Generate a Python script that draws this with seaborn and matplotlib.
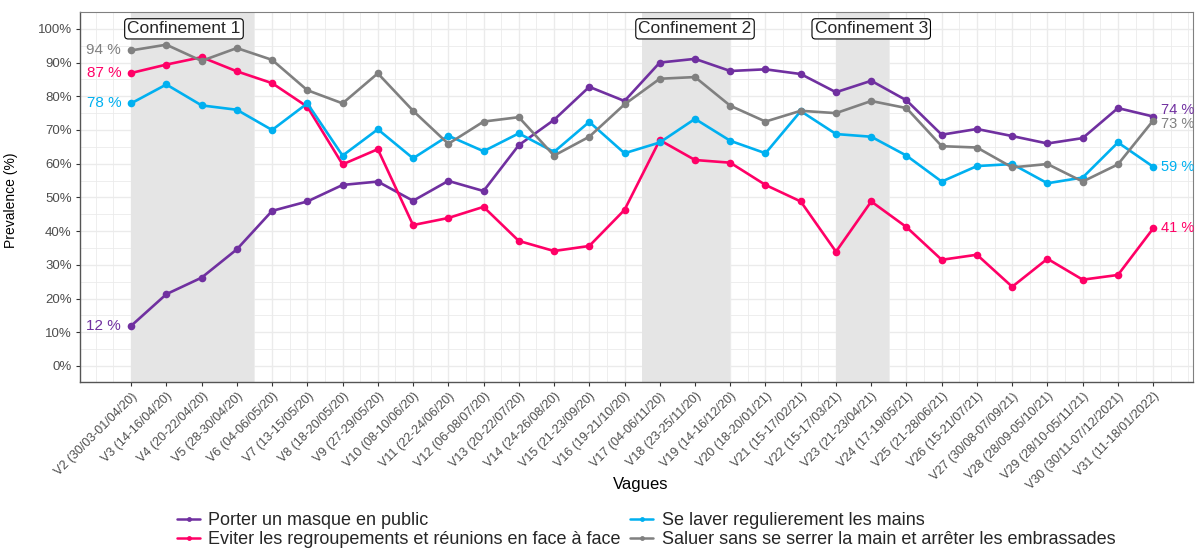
import matplotlib
matplotlib.use("Agg")
import matplotlib.pyplot as plt
from matplotlib.ticker import MultipleLocator, FuncFormatter
from matplotlib.lines import Line2D
import seaborn as sns
import pandas as pd

waves = ["V2 (30/03-01/04/20)", "V3 (14-16/04/20)", "V4 (20-22/04/20)", "V5 (28-30/04/20)",
         "V6 (04-06/05/20)", "V7 (13-15/05/20)", "V8 (18-20/05/20)", "V9 (27-29/05/20)",
         "V10 (08-10/06/20)", "V11 (22-24/06/20)", "V12 (06-08/07/20)", "V13 (20-22/07/20)",
         "V14 (24-26/08/20)", "V15 (21-23/09/20)", "V16 (19-21/10/20)", "V17 (04-06/11/20)",
         "V18 (23-25/11/20)", "V19 (14-16/12/20)", "V20 (18-20/01/21)", "V21 (15-17/02/21)",
         "V22 (15-17/03/21)", "V23 (21-23/04/21)", "V24 (17-19/05/21)", "V25 (21-28/06/21)",
         "V26 (15-21/07/21)", "V27 (30/08-07/09/21)", "V28 (28/09-05/10/21)", "V29 (28/10-05/11/21)",
         "V30 (30/11-07/12/2021)", "V31 (11-18/01/2022)"]

masque = [11.9, 21.3, 26.2, 34.6, 46.0, 48.8, 53.7, 54.7, 49.0, 54.9, 51.9, 65.5, 73.0, 82.8, 78.6,
          90.0, 91.1, 87.5, 88.0, 86.6, 81.2, 84.6, 78.8, 68.6, 70.3, 68.2, 66.0, 67.6, 76.5, 74.0]
mains = [77.9, 83.5, 77.3, 76.0, 70.0, 77.9, 62.4, 70.2, 61.6, 68.3, 63.7, 69.0, 63.5, 72.4, 63.1,
         66.3, 73.3, 66.8, 63.1, 75.6, 68.8, 68.0, 62.4, 54.7, 59.3, 59.9, 54.2, 55.9, 66.3, 59.1]
regroup = [86.9, 89.4, 91.6, 87.4, 83.9, 76.9, 59.8, 64.3, 41.8, 43.9, 47.2, 37.1, 34.1, 35.6, 46.3,
           67.0, 61.1, 60.3, 53.7, 48.8, 33.9, 48.8, 41.2, 31.5, 33.0, 23.5, 31.8, 25.6, 27.0, 40.8]
saluer = [93.6, 95.3, 90.5, 94.3, 90.8, 81.8, 77.9, 86.8, 75.7, 65.9, 72.5, 73.8, 62.4, 68.0, 77.6,
          85.2, 85.7, 77.2, 72.5, 75.7, 75.0, 78.6, 76.5, 65.2, 64.8, 58.9, 59.9, 54.7, 59.8, 72.8]

series_names = ["Porter un masque en public",
                "Eviter les regroupements et réunions en face à face",
                "Se laver regulierement les mains",
                "Saluer sans se serrer la main et arrêter les embrassades"]
series_values = [masque, regroup, mains, saluer]
colors = ["#7030A0", "#FF0066", "#00B0F0", "#808080"]

confinements = ["Confinement 1", "Confinement 2", "Confinement 3"]
conf_start = [0, 14.5, 20]
conf_end = [3.5, 17, 21.5]
conf_label_x = [1.5, 16, 21]

rows = []
for name, vals in zip(series_names, series_values):
    for i, v in enumerate(vals):
        rows.append({"idx": i, "value": v, "serie": name})
df = pd.DataFrame(rows)

sns.set_theme(style="whitegrid")
plt.rcParams["font.family"] = ["Liberation Sans", "DejaVu Sans"]

fig = plt.figure(figsize=(11.98, 5.5), dpi=100)
ax = fig.add_axes([80/1198, 1-382/550, (1193-80)/1198, (382-12)/550])

for s, e in zip(conf_start, conf_end):
    ax.axvspan(s, e, color="#E5E5E5", zorder=1, lw=0)

sns.lineplot(data=df, x="idx", y="value", hue="serie", hue_order=series_names,
             palette=colors, marker="o", markersize=5.5, markeredgewidth=0,
             linewidth=1.9, ax=ax, legend=False, zorder=3)

ax.set_xlim(-1.45, 30.13)
ax.set_ylim(-4.75, 105)
ax.set_xticks(range(len(waves)))
ax.set_xticklabels(waves, rotation=45, ha="right", rotation_mode="anchor",
                   fontsize=9, color="#4D4D4D")
ax.xaxis.set_minor_locator(MultipleLocator(0.5))
ax.yaxis.set_major_locator(MultipleLocator(10))
ax.yaxis.set_minor_locator(MultipleLocator(5))
ax.yaxis.set_major_formatter(FuncFormatter(lambda v, p: f"{int(round(v))}%"))
ax.tick_params(axis="y", labelsize=9.5, labelcolor="#4D4D4D", pad=3)
ax.tick_params(axis="x", pad=3)
ax.tick_params(which="major", length=3, color="#333333", width=0.8, bottom=True, left=True)
ax.tick_params(which="minor", length=0)
ax.grid(which="major", color="#EBEBEB", lw=1.0, zorder=0)
ax.grid(which="minor", color="#EBEBEB", lw=0.6, zorder=0)
ax.set_axisbelow(True)
for side in ["top", "right"]:
    ax.spines[side].set_color("#808080")
    ax.spines[side].set_linewidth(0.8)
for side in ["left", "bottom"]:
    ax.spines[side].set_color("#555555")
    ax.spines[side].set_linewidth(1.0)

ax.set_xlabel("Vagues", fontsize=12, color="black")
ax.xaxis.set_label_coords((641 - 80) / 1113, -(477 - 382) / 370)
ax.set_ylabel("Prevalence (%)", fontsize=10, color="black",
              family=["Liberation Sans Narrow", "Liberation Sans"])
ax.yaxis.set_label_coords(-(80 - 18) / 1113, (382 - 200) / 370)

for lab, lx in zip(confinements, conf_label_x):
    ax.text(lx, 100, lab, ha="center", va="center", fontsize=12.5, zorder=5,
            bbox=dict(boxstyle="round,pad=0.15,rounding_size=0.2", fc="white", ec="black", lw=0.8))

last = len(waves) - 1
end_nudge = [1.8, 0, 0, -1.0]
for vals, c, nud in zip(series_values, colors, end_nudge):
    ax.text(-0.28, vals[0], f"{int(round(vals[0]))} %", color=c, ha="right", va="center",
            fontsize=11, zorder=5)
    ax.text(last + 0.22, vals[-1] + nud, f"{int(round(vals[-1]))} %", color=c, ha="left",
            va="center", fontsize=10.5, zorder=5, clip_on=False)

handles = [Line2D([], [], color=c, lw=1.8, marker="o", markersize=3.5, markeredgewidth=0)
           for c in colors]
fig.legend(handles, series_names, loc="center", bbox_to_anchor=(646/1198, 1-530/550),
           ncol=2, frameon=False, fontsize=13, handlelength=1.3, handletextpad=0.45,
           columnspacing=0.5, labelspacing=0.1)

fig.savefig("out.png", dpi=100)
